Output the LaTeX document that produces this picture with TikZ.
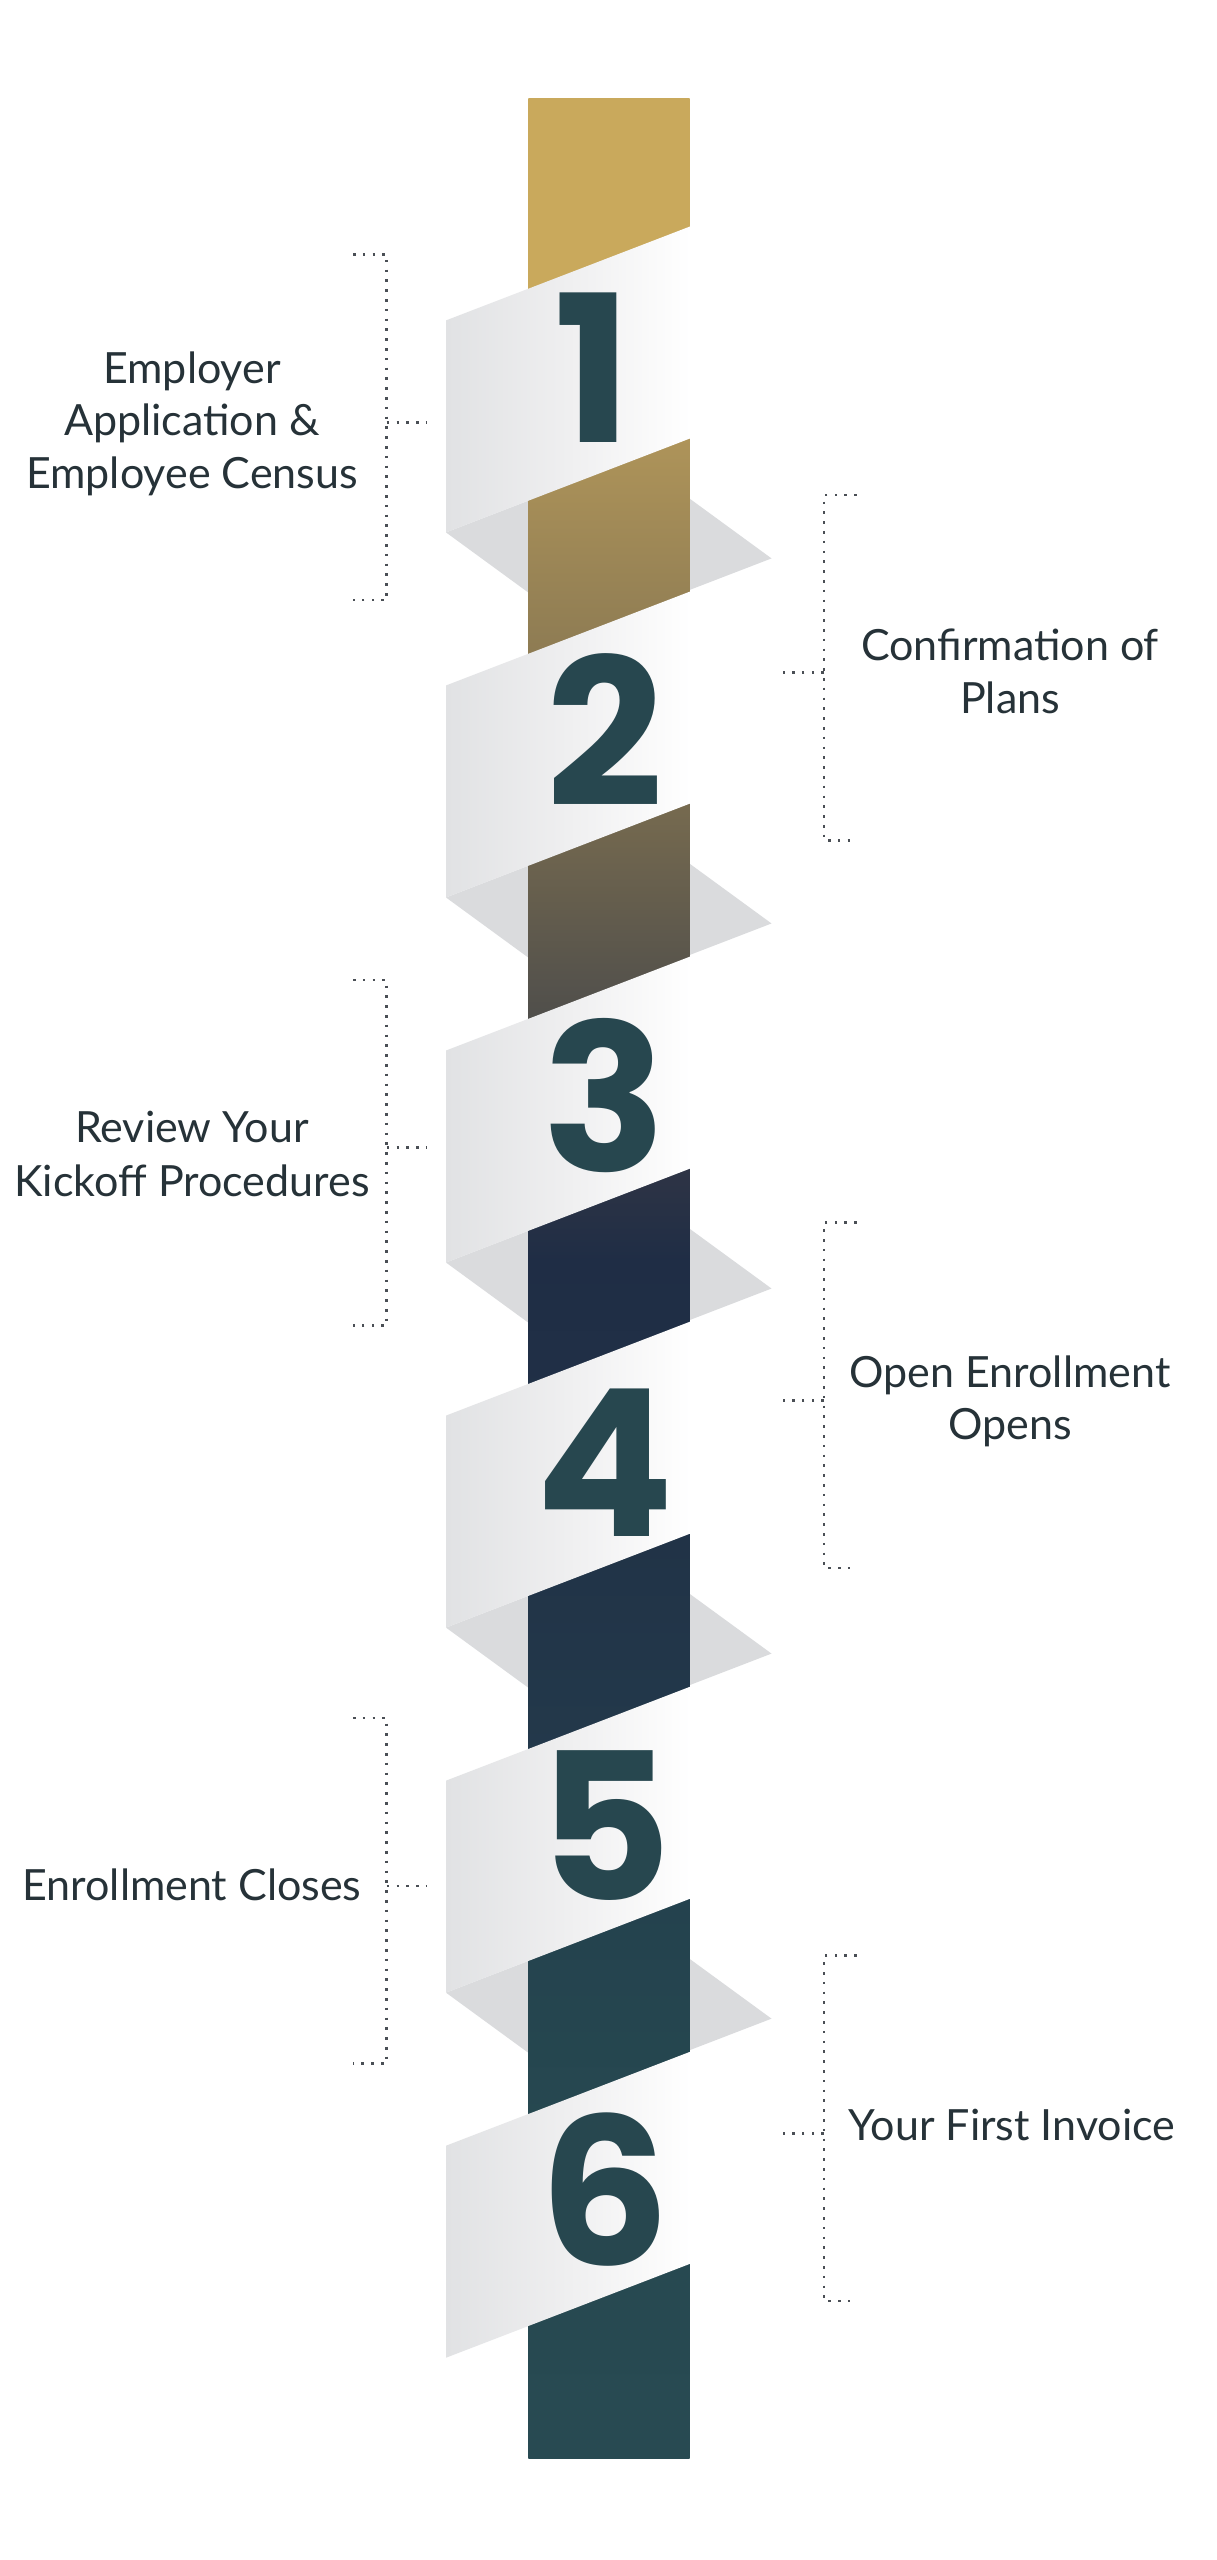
\documentclass[tikz,border=0pt]{standalone}
\usepackage{fontspec}
\setmainfont{Lato}
\newfontfamily\digitfont{Poppins}
\definecolor{labelcol}{HTML}{263238}
\definecolor{digitcol}{HTML}{27474F}
\definecolor{dotcol}{HTML}{4A4F55}
\definecolor{shadowcol}{HTML}{DADBDD}
\definecolor{bandL}{HTML}{E1E2E4}
\definecolor{bandM}{HTML}{EFEFF0}
\definecolor{bandR}{HTML}{FFFFFF}
\definecolor{s0}{HTML}{C9A95C}
\definecolor{s1}{HTML}{C9A95C}
\definecolor{s2}{HTML}{AD9359}
\definecolor{s3}{HTML}{8D7B53}
\definecolor{s4}{HTML}{766A4F}
\definecolor{s5}{HTML}{4F4E4B}
\definecolor{s6}{HTML}{2E3445}
\definecolor{s7}{HTML}{1F2D45}
\definecolor{s8}{HTML}{213347}
\definecolor{s9}{HTML}{23394B}
\definecolor{s10}{HTML}{24424E}
\definecolor{s11}{HTML}{264850}
\definecolor{s12}{HTML}{284A52}
\begin{document}
\begin{tikzpicture}[x=1pt,y=-1pt,
  labeltext/.style={font=\fontsize{43}{52}\selectfont, text=labelcol, anchor=base, inner sep=0pt},
  digit/.style={font=\digitfont\bfseries\fontsize{205}{205}\selectfont, text=digitcol, anchor=base, inner sep=0pt},
  dotline/.style={draw=dotcol, line width=2.6pt, dash pattern=on 2.6pt off 7.2pt},
  shadowfill/.style={fill=shadowcol, draw=none},
  bandfill/.style={left color=bandL, right color=bandR, middle color=bandM, draw=none},
]
\useasboundingbox (0,0) rectangle (1217,2560);
\fill[white] (0,0) rectangle (1217,2560);

% shadows behind the strip
\foreach \k in {0,...,4}{
  \pgfmathsetmacro{\T}{320.4+365.06*\k}
  \fill[shadowfill] (446,{\T+212}) -- (635.8,{\T+138.9}) -- (771.5,{\T+238}) -- (581.7,{\T+311.1}) -- cycle;
}

% the strip, graded from gold to teal
\foreach \ya/\yb/\ca/\cb/\e in {98/300/s0/s1/1, 300/445/s1/s2/1, 445/655/s2/s3/1, 655/805/s3/s4/1, 805/1020/s4/s5/1, 1020/1170/s5/s6/1, 1170/1260/s6/s7/1, 1260/1540/s7/s8/1, 1540/1760/s8/s9/1, 1760/1905/s9/s10/1, 1905/2120/s10/s11/1, 2120/2458.7/s11/s12/0}{
  \shade[top color=\ca, bottom color=\cb] (528.4,\ya) rectangle (689.5,{\yb+\e});
}

% ribbon bands in front (a hair wider than the strip to hide its edge)
\foreach \k in {0,...,5}{
  \pgfmathsetmacro{\T}{320.4+365.06*\k}
  \shade[bandfill] (446,\T) -- (691,{\T-94.3}) -- (691,{\T+117.7}) -- (446,{\T+212}) -- cycle;
}

% numbers
\foreach \d/\xx [count=\i from 0] in {1/593,2/605,3/605,4/605,5/605,6/605}{
  \node[digit] (num\d) at (\xx,{442+364.7*\i}) {\d};
}

% labels
\node[labeltext] (l1a) at (192,383.3) {Employer};
\node[labeltext] (l1b) at (192,435.7) {Application \&};
\node[labeltext] (l1c) at (192,488.3) {Employee Census};
\node[labeltext] (l2a) at (192,1142.3) {Review Your};
\node[labeltext] (l2b) at (192,1196) {Kickoff Procedures};
\node[labeltext] (l3a) at (192,1900) {Enrollment Closes};
\node[labeltext] (r1a) at (1010,660) {Confirmation of};
\node[labeltext] (r1b) at (1010,713.3) {Plans};
\node[labeltext] (r2a) at (1010,1387.3) {Open Enrollment};
\node[labeltext] (r2b) at (1010,1439.3) {Opens};
\node[labeltext] (r3a) at (1012,2140) {Your First Invoice};

% dotted brackets, left side
\foreach \nm/\tp/\md/\bt in {L1/254.3/422.7/600, L2/980/1147.7/1325.7, L3/1718/1886/2063.3}{
  \coordinate (\nm-ta) at (353,\tp);
  \coordinate (\nm-tc) at (386.7,\tp);
  \coordinate (\nm-bc) at (386.7,\bt);
  \coordinate (\nm-ba) at (353,\bt);
  \coordinate (\nm-mc) at (386.7,\md);
  \coordinate (\nm-me) at (426.7,\md);
  \draw[dotline] (\nm-ta) -- (\nm-tc) -- (\nm-bc) -- (\nm-ba);
  \draw[dotline] (\nm-mc) -- (\nm-me);
}
% dotted brackets, right side
\foreach \nm/\tp/\md/\bt in {R1/495/672.7/840.5, R2/1222.7/1400.7/1568, R3/1955.7/2133.3/2301}{
  \coordinate (\nm-ta) at (856.7,\tp);
  \coordinate (\nm-tc) at (824,\tp);
  \coordinate (\nm-bc) at (824,\bt);
  \coordinate (\nm-ba) at (856.7,\bt);
  \coordinate (\nm-mc) at (824,\md);
  \coordinate (\nm-me) at (783.3,\md);
  \draw[dotline] (\nm-ta) -- (\nm-tc) -- (\nm-bc) -- (\nm-ba);
  \draw[dotline] (\nm-mc) -- (\nm-me);
}
\end{tikzpicture}
\end{document}
